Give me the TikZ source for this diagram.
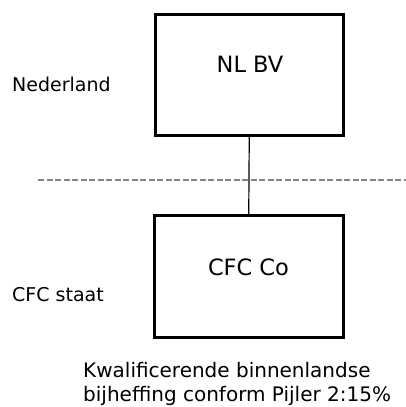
\documentclass[tikz,border=0pt]{standalone}
\usepackage{fontspec}
\setmainfont{DejaVu Sans}
\begin{document}
\begin{tikzpicture}[x=1pt,y=-1pt,
  entity/.style={draw=black,line width=3pt,inner sep=0pt,minimum width=188.5pt,minimum height=121.5pt},
  boxlabel/.style={font=\fontsize{22.5}{26}\selectfont,anchor=base,inner sep=0pt},
  sidelabel/.style={font=\fontsize{19}{22}\selectfont,anchor=base west,inner sep=0pt},
  notelabel/.style={font=\fontsize{20}{22}\selectfont,anchor=base west,inner sep=0pt},
  border/.style={draw=black!48,line width=1.4pt,dash pattern=on 6pt off 2.5pt}]
\useasboundingbox (0,0) rectangle (406,407);
\fill[white] (0,0) rectangle (406,407);
\node[entity] (nl) at (249.25,74.75) {};
\node[entity] (cfc) at (248.75,276.5) {};
\node[boxlabel] (nltext) at (250,72) {NL BV};
\node[boxlabel] (cfctext) at (248.5,275) {CFC Co};
\node[sidelabel] (ned) at (12,91) {Nederland};
\node[sidelabel] (staat) at (12,301) {CFC staat};
\node[notelabel] (note1) at (83,377) {Kwalificerende binnenlandse};
\node[notelabel] (note2) at (83,401) {bijheffing conform Pijler 2:15\%};
\coordinate (dl) at (38,180);
\coordinate (dr) at (406,180);
\draw[border] (dl) -- (dr);
\draw[line width=1.2pt] (nl.south) -- (cfc.north);
\end{tikzpicture}
\end{document}
